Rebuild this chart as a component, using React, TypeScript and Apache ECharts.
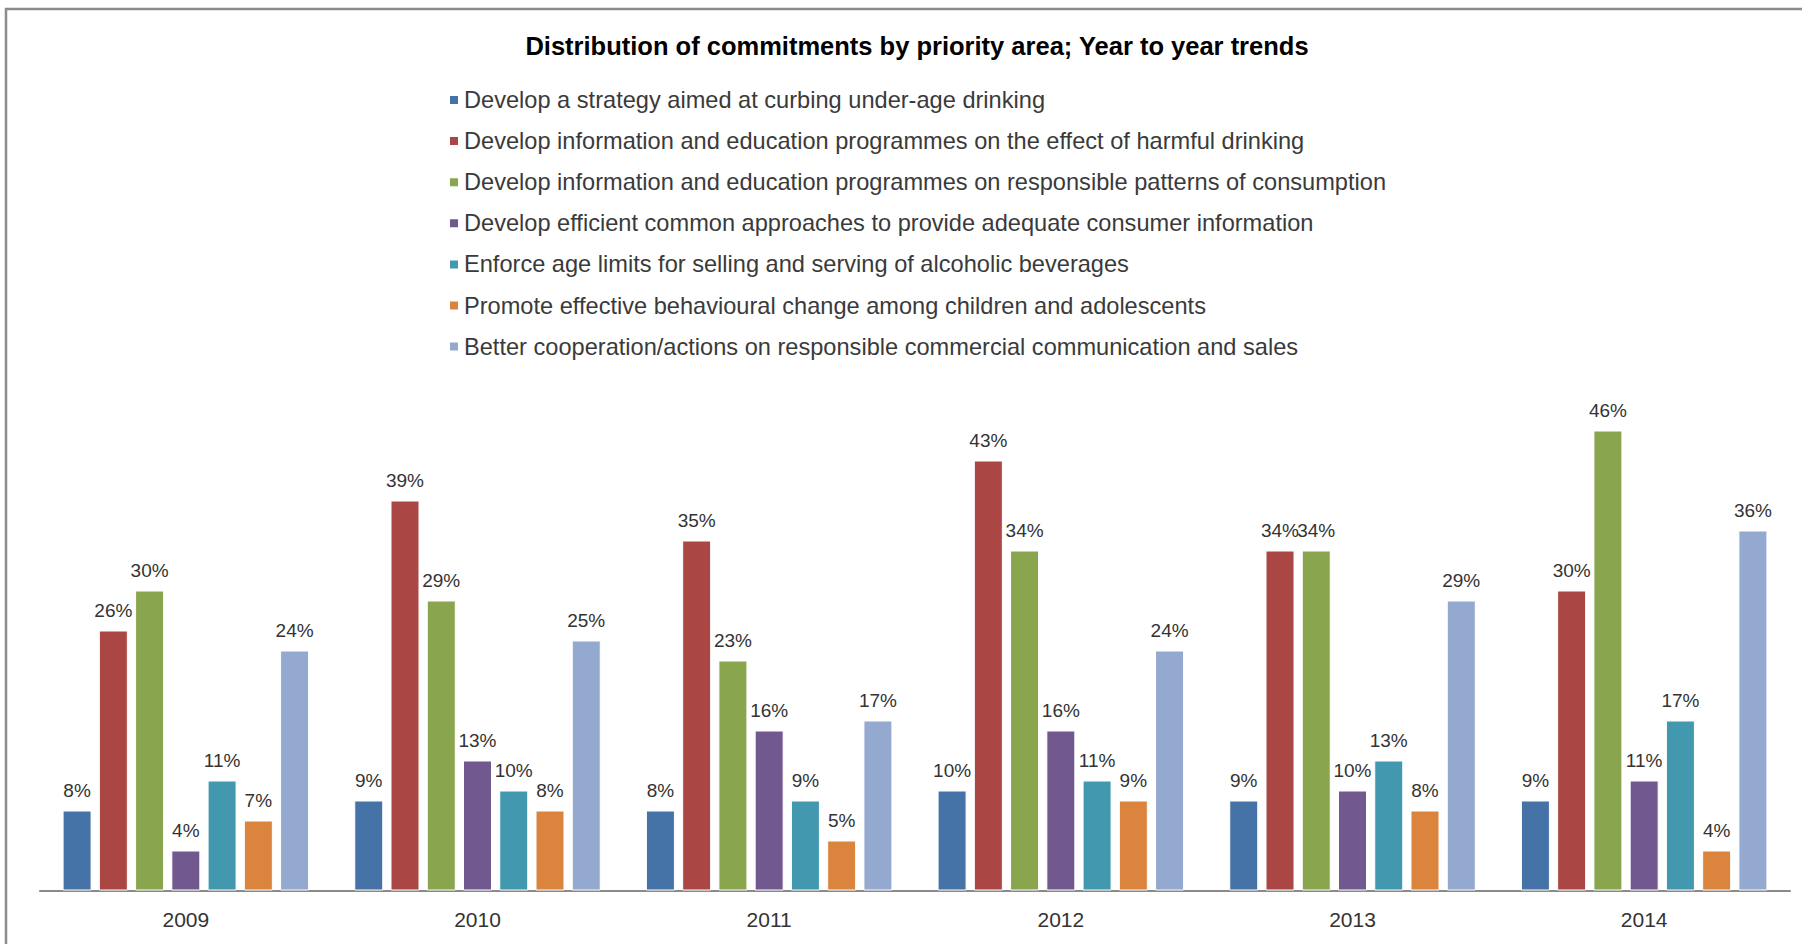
import React, { useEffect, useRef } from "react";
import * as echarts from "echarts";

const years = ["2009", "2010", "2011", "2012", "2013", "2014"];
const seriesNames = [
  "Develop a strategy aimed at curbing under-age drinking",
  "Develop information and education programmes on the effect of harmful drinking",
  "Develop information and education programmes on responsible patterns of consumption",
  "Develop efficient common approaches to provide adequate consumer information",
  "Enforce age limits for selling and serving of alcoholic beverages",
  "Promote effective behavioural change among children and adolescents",
  "Better cooperation/actions on responsible commercial communication and sales",
];
const underAge = [8, 9, 8, 10, 9, 9];
const harmful = [26, 39, 35, 43, 34, 30];
const responsible = [30, 29, 23, 34, 34, 46];
const consumerInfo = [4, 13, 16, 16, 10, 11];
const ageLimits = [11, 10, 9, 11, 13, 17];
const behaviour = [7, 8, 5, 9, 8, 4];
const commercial = [24, 25, 17, 24, 29, 36];
const seriesValues = [underAge, harmful, responsible, consumerInfo, ageLimits, behaviour, commercial];
const colors = ["#4572A7", "#AA4643", "#89A54E", "#71588F", "#4198AF", "#DB843D", "#93A9CF"];

const FONT = "'Liberation Sans', Arial, sans-serif";

export default function App() {
  const ref = useRef<HTMLDivElement>(null);
  useEffect(() => {
    if (!ref.current) return;
    const chart = echarts.init(ref.current, undefined, { renderer: "svg" });
    chart.setOption({
      animation: false,
      backgroundColor: "#ffffff",
      title: {
        text: "Distribution of commitments by priority area; Year to year trends",
        left: 912,
        top: 28,
        textAlign: "center",
        textStyle: { fontFamily: FONT, fontSize: 25.5, fontWeight: "bold", color: "#000000" },
      },
      legend: {
        orient: "vertical",
        left: 448,
        top: 88,
        padding: 0,
        itemWidth: 10,
        itemHeight: 10,
        itemGap: 17.1,
        icon: "rect",
        data: seriesNames,
        textStyle: { fontFamily: FONT, fontSize: 23.6, color: "#3a3a3a" },
      },
      grid: { left: 40, right: 12, top: 390.5, bottom: 53.5, containLabel: false },
      xAxis: {
        type: "category",
        data: years,
        axisLine: { lineStyle: { color: "#8a8a8a", width: 2 } },
        axisTick: { show: false },
        axisLabel: { fontFamily: FONT, fontSize: 21, color: "#333333", margin: 18 },
      },
      yAxis: {
        type: "value",
        min: 0,
        max: 50,
        show: false,
        splitLine: { show: false },
      },
      graphic: [
        {
          type: "polyline",
          shape: { points: [[6, 944], [6, 9], [1802, 9]] },
          style: { stroke: "#8c8c8c", lineWidth: 2.5, fill: "none" },
        },
      ],
      series: seriesNames.map((name, i) => ({
        name,
        type: "bar",
        data: seriesValues[i],
        barWidth: 29,
        barGap: "25%",
        itemStyle: { color: colors[i], borderColor: "#ffffff", borderWidth: 1 },
        label: {
          show: true,
          position: "top",
          distance: 11,
          formatter: "{c}%",
          fontFamily: FONT,
          fontSize: 19,
          color: "#333333",
        },
      })),
    });
    return () => chart.dispose();
  }, []);
  return (
    <div
      ref={ref}
      style={{ position: "fixed", left: 0, top: 0, width: 1802, height: 944 }}
    />
  );
}
